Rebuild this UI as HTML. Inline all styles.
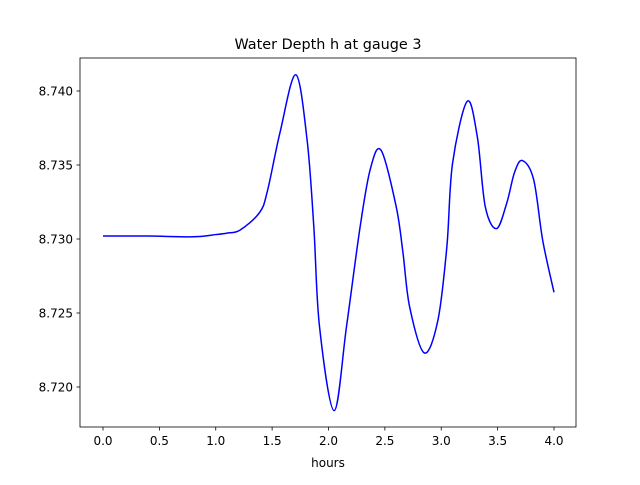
<!DOCTYPE html>
<html><head><meta charset="utf-8"><style>
body{margin:0;background:#fff;}
svg text{font-family:"DejaVu Sans","Liberation Sans",sans-serif;fill:#000;}
</style></head><body>
<svg id="chart" width="640" height="480" viewBox="0 0 640 480" xmlns="http://www.w3.org/2000/svg">
<rect width="640" height="480" fill="#fff"/>
<text x="328" y="49" font-size="14.4" text-anchor="middle">Water Depth h at gauge 3</text>
<text x="328" y="467" font-size="12" text-anchor="middle">hours</text>
<g id="ticks"></g>
<path id="line" fill="none" stroke="#0000ff" stroke-width="1.5"/>
<rect x="80" y="58" width="496" height="369" fill="none" stroke="#000" stroke-width="0.8"/>
</svg>
<script>
const hours=[0,0.4,0.8,1.0,1.1,1.215,1.39,1.46,1.57,1.71,1.81,1.87,1.92,2.05,2.16,2.28,2.37,2.466,2.6,2.66,2.72,2.85,2.97,3.05,3.10,3.23,3.32,3.39,3.49,3.58,3.65,3.72,3.82,3.90,4.0];
const depth=[8.7302,8.7302,8.73015,8.7303,8.7304,8.7306,8.7318,8.7333,8.7372,8.7411,8.7367,8.7308,8.7241,8.7184,8.7241,8.7308,8.7347,8.7360,8.7322,8.7291,8.7254,8.7223,8.7245,8.7295,8.7351,8.7393,8.7369,8.7322,8.7307,8.7324,8.7345,8.7353,8.7340,8.7299,8.7264];
const xTicks=[0,0.5,1,1.5,2,2.5,3,3.5,4];
const xTickLabels=["0.0","0.5","1.0","1.5","2.0","2.5","3.0","3.5","4.0"];
const yTicks=[8.720,8.725,8.730,8.735,8.740];
const yTickLabels=["8.720","8.725","8.730","8.735","8.740"];
const sx=v=>103+(v-0)*112.75;
const sy=v=>91+(8.740-v)*14800;
const NS="http://www.w3.org/2000/svg";
const g=document.getElementById('ticks');
xTicks.forEach((t,i)=>{
  const l=document.createElementNS(NS,'line');
  
  
  l.setAttribute('x1',sx(t));l.setAttribute('x2',sx(t));l.setAttribute('y1',427);l.setAttribute('y2',430.5);l.setAttribute('stroke','#000');l.setAttribute('stroke-width','0.8');
  g.appendChild(l);
  const tx=document.createElementNS(NS,'text');
  
  
  tx.setAttribute('x',sx(t));tx.setAttribute('y',445);tx.setAttribute('font-size','12');tx.setAttribute('text-anchor','middle');
  tx.textContent=xTickLabels[i];g.appendChild(tx);
});
yTicks.forEach((t,i)=>{
  const l=document.createElementNS(NS,'line');
  
  
  l.setAttribute('x1',76.5);l.setAttribute('x2',80);l.setAttribute('y1',sy(t));l.setAttribute('y2',sy(t));l.setAttribute('stroke','#000');l.setAttribute('stroke-width','0.8');
  g.appendChild(l);
  const tx=document.createElementNS(NS,'text');
  
  
  tx.setAttribute('x',73);tx.setAttribute('y',sy(t)+4.5);tx.setAttribute('font-size','12');tx.setAttribute('text-anchor','end');
  tx.textContent=yTickLabels[i];g.appendChild(tx);
});
const P=hours.map((h,i)=>[sx(h),sy(depth[i])]);
let d=`M${P[0][0]},${P[0][1]}`;
for(let i=0;i<P.length-1;i++){
  const p0=P[Math.max(0,i-1)],p1=P[i],p2=P[i+1],p3=P[Math.min(P.length-1,i+2)];
  const c1=[p1[0]+(p2[0]-p0[0])/6,p1[1]+(p2[1]-p0[1])/6];
  const c2=[p2[0]-(p3[0]-p1[0])/6,p2[1]-(p3[1]-p1[1])/6];
  d+=` C${c1[0]},${c1[1]} ${c2[0]},${c2[1]} ${p2[0]},${p2[1]}`;
}
document.getElementById('line').setAttribute('d',d);
</script>
</body></html>
